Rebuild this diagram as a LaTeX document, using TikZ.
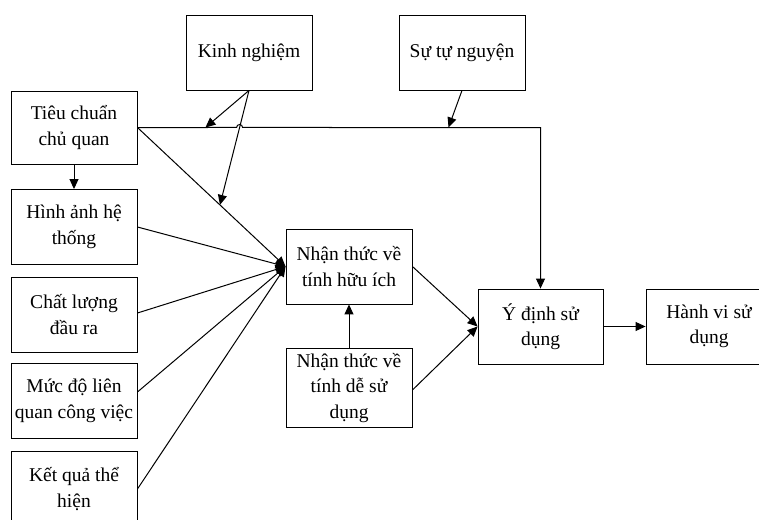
\documentclass[tikz,border=0pt]{standalone}
\usepackage{fontspec}
\setmainfont{Liberation Serif}
\usetikzlibrary{arrows.meta,calc}
\begin{document}
\begin{tikzpicture}[x=1pt,y=-1pt,
  box/.style={draw, line width=0.9pt, minimum width=126pt, minimum height=75pt, align=center, inner sep=0pt, font=\fontsize{19.5}{25.5}\selectfont},
  conn/.style={line width=1pt},
  arr/.style={conn,-{Triangle[length=10pt,width=9pt]}}]
\useasboundingbox (0,0) rectangle (759,519);
\node[box] (kn) at (249,52.5) {Kinh nghiệm};
\node[box] (stn) at (462,52.5) {Sự tự nguyện};
\node[box, minimum height=73pt] (tc) at (74,127.5) {Tiêu chuẩn\\chủ quan};
\node[box] (ha) at (74,227) {Hình ảnh hệ\\thống};
\node[box] (cl) at (74,314.5) {Chất lượng\\đầu ra};
\node[box] (md) at (74,401) {Mức độ liên\\quan công việc};
\node[box] (kq) at (74,489) {Kết quả thể\\hiện};
\node[box] (hu) at (349,266.5) {Nhận thức về\\tính hữu ích};
\node[box, minimum height=79pt] (de) at (349,388) {Nhận thức về\\tính dễ sử\\dụng};
\node[box, minimum width=125pt] (yd) at (540.5,326.5) {Ý định sử\\dụng};
\node[box] (hv) at (709,326.5) {Hành vi sử\\dụng};

\coordinate (hz) at (tc.east -| yd.north);
\coordinate (d1) at ($(tc.east)!0.557!(hu.west)$);
\coordinate (h1) at ($(tc.east)+(68,0)$);
\coordinate (s1) at ($(hz)+(-92,0)$);
\coordinate (hop) at (intersection of kn.south--d1 and tc.east--hz);

\draw[arr] (tc.east) -- ($(hop)+(-3,0)$) arc[start angle=180,end angle=0,radius=3pt] -- (hz) -- (yd.north);
\draw[arr] (tc.east) -- (hu.west);
\draw[arr] (ha.east) -- (hu.west);
\draw[arr] ([yshift=1.5pt]cl.east) -- (hu.west);
\draw[arr] ([yshift=9pt]md.east) -- (hu.west);
\draw[arr] (kq.east) -- (hu.west);
\draw[arr] (tc.south) -- (ha.north);
\draw[arr] (kn.south) -- (h1);
\draw[arr] (kn.south) -- (d1);
\draw[arr] (stn.south) -- (s1);
\draw[arr] (hu.east) -- (yd.west);
\draw[arr] ([yshift=-2pt]de.east) -- (yd.west);
\draw[arr] (de.north) -- (hu.south);
\draw[arr] (yd.east) -- (hv.west);
\end{tikzpicture}
\end{document}
